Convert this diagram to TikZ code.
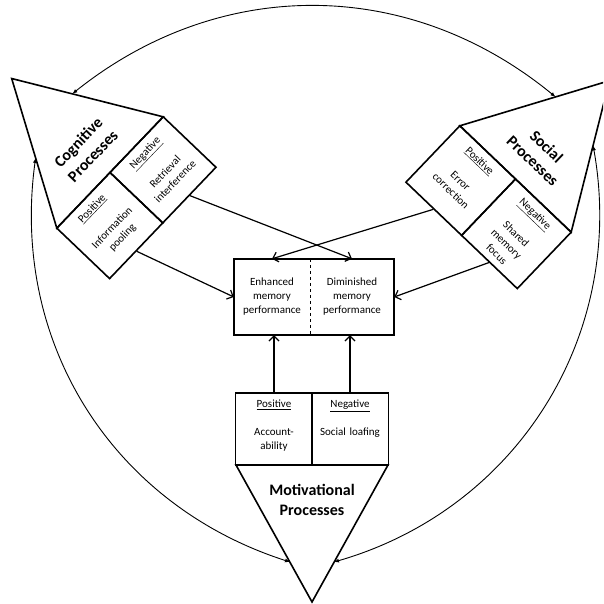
\documentclass[tikz,border=0pt]{standalone}
\usepackage{fontspec}
\setmainfont{Carlito}
\usetikzlibrary{arrows.meta, calc}
\tikzset{
  every picture/.style={font=\fontsize{11}{14}\selectfont},
  tri/.style={draw, line width=1.6pt, line join=miter},
  procbox/.style={draw, line width=1.6pt, align=center, text width=71pt, inner xsep=3pt, inner ysep=3pt, text height=12pt, text depth=#1},
  procbox/.default=56pt,
  proctitle/.style={font=\fontsize{16}{20}\selectfont\bfseries, align=center},
  midbox/.style={minimum height=76pt, align=center, inner sep=0pt},
  arrow/.style={-{Straight Barb[length=5pt, width=10pt]}, line width=1.2pt},
  feedback/.style={{Latex[length=5pt, width=4pt]}-{Latex[length=5pt, width=4pt]}, line width=0.9pt},
}

\begin{document}
\begin{tikzpicture}[x=1pt, y=1pt]
  \clip (0,0) rectangle (603,604);
  % cognitive processes
  \begin{scope}[shift={(110,431.5)}, rotate=46.3]
    \draw[tri] (-77,0) -- (0,136) -- (77,0) -- cycle;
    \node[proctitle, transform shape] (cogtitle) at (0,34) {Cognitive\\Processes};
    \node[procbox=55pt, transform shape] (cogpos) at (-38.5,-36.5) {\underline{Positive}\\[14pt]Information\\pooling};
    \node[procbox=55pt, transform shape] (cogneg) at (38.5,-36.5) {\underline{Negative}\\[14pt]Retrieval\\interference};
    \coordinate (cogtop) at (30.8,81.6);
    \coordinate (cogleft) at (-40.8,63.9);
  \end{scope}
  % social processes
  \begin{scope}[shift={(515.5,425)}, rotate=-43.7]
    \draw[tri] (-77,0) -- (0,136) -- (77,0) -- cycle;
    \node[proctitle, transform shape] (soctitle) at (0,35) {Social\\Processes};
    \node[procbox=60pt, transform shape] (socpos) at (-38.5,-39) {\underline{Positive}\\[14pt]Error\\correction};
    \node[procbox=60pt, transform shape] (socneg) at (38.5,-39) {\underline{Negative}\\[14pt]Shared\\memory\\focus};
    \coordinate (soctop) at (-27.7,87);
    \coordinate (socright) at (32.9,77.9);
  \end{scope}
  % motivational processes
  \draw[tri] (236,139) -- (312,2) -- (388,139) -- cycle;
  \node[proctitle] (mottitle) at (312,104) {Motivational\\Processes};
  \node[procbox=54pt] (motpos) at (274,175) {\underline{Positive}\\[14pt]Account-\\ability};
  \node[procbox=54pt] (motneg) at (350,175) {\underline{Negative}\\[14pt]Social loafing};
  \coordinate (motleft) at (290,42);
  \coordinate (motright) at (334,42);
  % memory performance
  \node[midbox, minimum width=76pt] (enh) at (272,307) {Enhanced\\memory\\performance};
  \node[midbox, minimum width=84pt] (dim) at (352,307) {Diminished\\memory\\performance};
  \draw[line width=1.6pt] (enh.north west) rectangle (dim.south east);
  \draw[dashed, line width=1pt] (enh.north east) -- (enh.south east);
  \draw[arrow] (cogpos.south) -- (enh.west);
  \draw[arrow] (cogneg.south) -- (dim.north);
  \draw[arrow] (socpos.south) -- (enh.north);
  \draw[arrow] (socneg.south) -- (dim.east);
  \draw[arrow] (motpos.north) -- (motpos.north |- enh.south);
  \draw[arrow] (motneg.north) -- (motneg.north |- dim.south);
  % feedback loops
  \draw[feedback] (cogtop) to[bend left=39] (soctop);
  \draw[feedback] (motleft) to[bend left=40] (cogleft);
  \draw[feedback] (socright) to[bend left=42] (motright);
\end{tikzpicture}
\end{document}
